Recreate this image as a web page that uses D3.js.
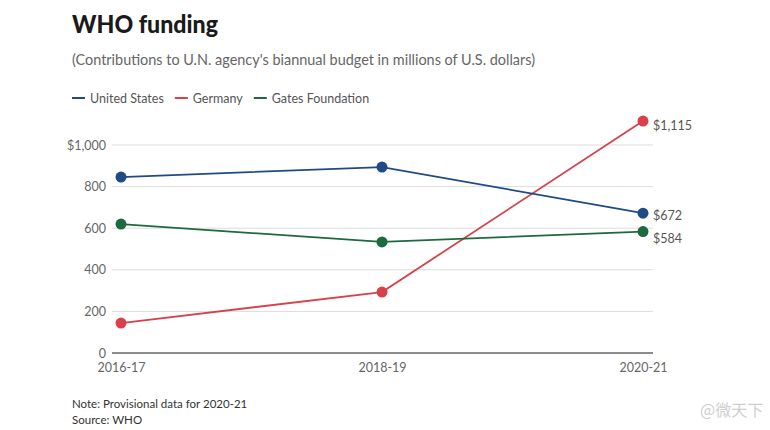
<!DOCTYPE html>
<html><head><meta charset="utf-8">
<script src="https://cdn.jsdelivr.net/npm/d3@7"></script>
<style>body{margin:0;background:#fff;}svg{display:block;font-family:Lato,"Open Sans",sans-serif;}</style>
</head><body>
<svg id="c" width="770" height="430"></svg>
<script>
const periods = ["2016-17","2018-19","2020-21"];
const seriesNames = ["United States","Germany","Gates Foundation"];
const seriesColors = ["#1f4a85","#d8404b","#1c6a3e"];
const usValues = [846, 894, 672];
const germanyValues = [144, 293, 1115];
const gatesValues = [620, 534, 584];
const yTicks = [0,200,400,600,800,1000];
const endLabels = ["$672","$1,115","$584"];

const series = [
  {name: seriesNames[0], color: seriesColors[0], values: usValues, label: endLabels[0]},
  {name: seriesNames[1], color: seriesColors[1], values: germanyValues, label: endLabels[1]},
  {name: seriesNames[2], color: seriesColors[2], values: gatesValues, label: endLabels[2]}
];

const svg = d3.select("#c");
const x = d3.scalePoint().domain(periods).range([121, 643]);
const y = d3.scaleLinear().domain([0, 1000]).range([353, 145]);

svg.append("text").attr("x",72).attr("y",33).attr("font-size",25).attr("font-weight",900).attr("fill","#1a1a1a")
  .attr("textLength",146).attr("lengthAdjust","spacingAndGlyphs").text("WHO funding");
svg.append("text").attr("x",72).attr("y",65).attr("font-size",15).attr("fill","#666")
  .attr("textLength",463).attr("lengthAdjust","spacingAndGlyphs")
  .text("(Contributions to U.N. agency's biannual budget in millions of U.S. dollars)");

// legend
const lg = svg.append("g").attr("transform","translate(72,98)");
let lx = 0;
series.forEach((s,i)=>{
  lg.append("line").attr("x1",lx).attr("x2",lx+13).attr("y1",0).attr("y2",0).attr("stroke",s.color).attr("stroke-width",2);
  const t = lg.append("text").attr("x",lx+18).attr("y",4.5).attr("font-size",12.5).attr("fill","#555").text(s.name);
  lx += 18 + t.node().getComputedTextLength() + 11;
});

// grid
svg.append("g").selectAll("line").data(yTicks.filter(d=>d>0)).join("line")
  .attr("x1",112).attr("x2",653).attr("y1",d=>y(d)).attr("y2",d=>y(d)).attr("stroke","#dcdcdc").attr("stroke-width",1);
svg.append("line").attr("x1",112).attr("x2",653).attr("y1",y(0)).attr("y2",y(0)).attr("stroke","#666").attr("stroke-width",1.5);

// y axis labels
const yAxis = d3.axisLeft(y).tickValues(yTicks).tickSize(0).tickPadding(0)
  .tickFormat(d=> d===1000 ? "$1,000" : d3.format(",")(d));
const ya = svg.append("g").attr("transform","translate(106,0)").call(yAxis);
ya.select(".domain").remove();
ya.selectAll("text").attr("font-size",12.5).attr("fill","#666").attr("font-family","Lato,'Open Sans',sans-serif");

// x axis labels
const xAxis = d3.axisBottom(x).tickSize(0).tickPadding(0);
const xa = svg.append("g").attr("transform","translate(0,363)").call(xAxis);
xa.select(".domain").remove();
xa.selectAll("text").attr("font-size",12.5).attr("fill","#666").attr("font-family","Lato,'Open Sans',sans-serif");

// lines
const line = d3.line().x((d,i)=>x(periods[i])).y(d=>y(d));
const order = [1,0,2];
order.forEach(k=>{
  const s = series[k];
  svg.append("path").attr("d",line(s.values)).attr("fill","none").attr("stroke",s.color).attr("stroke-width",1.8);
});
order.forEach(k=>{
  const s = series[k];
  svg.append("g").selectAll("circle").data(s.values).join("circle")
    .attr("cx",(d,i)=>x(periods[i])).attr("cy",d=>y(d)).attr("r",5.5).attr("fill",s.color);
});
// end labels
const offsets = [6.5, 8.5, 11.5];
series.forEach((s,k)=>{
  svg.append("text").attr("x",x(periods[2])+10).attr("y",y(s.values[2])+offsets[k])
    .attr("font-size",12.5).attr("fill","#555").text(s.label);
});

svg.append("text").attr("x",72).attr("y",408).attr("font-size",11.5).attr("fill","#333").text("Note: Provisional data for 2020-21");
svg.append("text").attr("x",72).attr("y",424).attr("font-size",11.5).attr("fill","#333").text("Source: WHO");
svg.append("text").attr("x",700).attr("y",416).attr("font-size",16).attr("fill","#cfcfcf").attr("font-family","'Noto Sans CJK SC',sans-serif").text("@微天下");
</script>
</body></html>
